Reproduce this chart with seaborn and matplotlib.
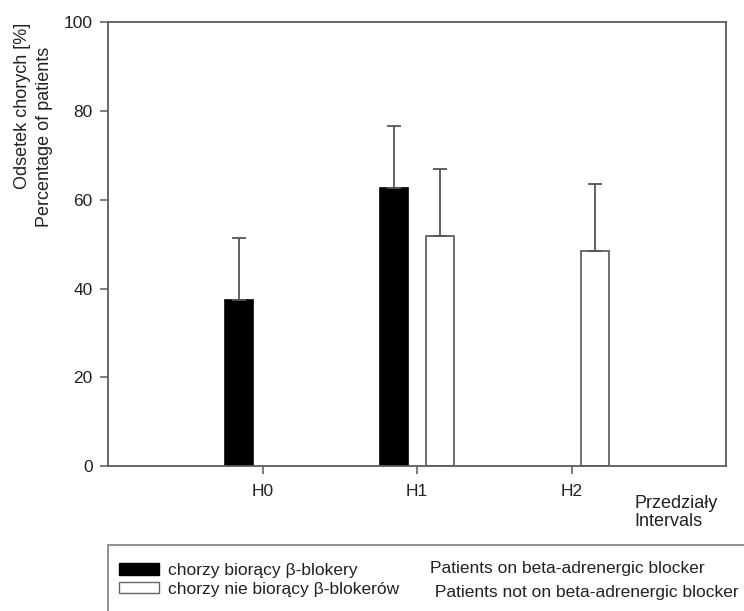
import numpy as np
import pandas as pd
import matplotlib
matplotlib.use('Agg')
import matplotlib.pyplot as plt
import seaborn as sns
from matplotlib.patches import Patch, Rectangle

# values
intervals = ['H0', 'H1', 'H2']
on_blocker = [37.5, 62.7, np.nan]
on_blocker_err = [14.0, 13.9, np.nan]
not_on_blocker = [np.nan, 51.8, 48.4]
not_on_blocker_err = [np.nan, 15.2, 15.2]

label_on_pl = 'chorzy biorący β-blokery'
label_off_pl = 'chorzy nie biorący β-blokerów'
label_on_en = 'Patients on beta-adrenergic blocker'
label_off_en = ' Patients not on beta-adrenergic blocker'

sns.set_theme(style='white')
plt.rcParams['font.family'] = ['Liberation Sans', 'DejaVu Sans']

df = pd.DataFrame({
    'interval': intervals * 2,
    'group': [label_on_pl] * 3 + [label_off_pl] * 3,
    'pct': on_blocker + not_on_blocker,
    'err': on_blocker_err + not_on_blocker_err,
})

W, H = 744, 611
fig = plt.figure(figsize=(W / 100, H / 100), dpi=100)
ax = fig.add_axes([108 / W, 1 - 466 / H, (726 - 108) / W, (466 - 22.5) / H])

hue_order = [label_on_pl, label_off_pl]
sns.barplot(data=df, x='interval', y='pct', hue='group', hue_order=hue_order,
            order=intervals, palette={label_on_pl: 'black', label_off_pl: 'white'},
            width=0.6, gap=0.39, linewidth=1.2, errorbar=None, legend=False, ax=ax)

# colour the edges and add the one-sided error bars
for p in ax.patches:
    cx = p.get_x() + p.get_width() / 2
    h = p.get_height()
    idx = int(round(cx))
    grp = label_on_pl if cx < idx else label_off_pl
    row = df[(df['interval'] == intervals[idx]) & (df['group'] == grp)].iloc[0]
    p.set_edgecolor('black' if grp == label_on_pl else '#555555')
    ax.errorbar(cx, h, yerr=[[0], [row['err']]], fmt='none', ecolor='#555555',
                elinewidth=1.3, capsize=5, capthick=1.3, zorder=1)

ax.set_xlim(-1, 3)
ax.set_ylim(0, 100)
ax.set_yticks([0, 20, 40, 60, 80, 100])
ax.set_xticks(range(len(intervals)))
ax.set_xticklabels(intervals)
ax.set_xlabel('')
ax.set_ylabel('')

for s in ax.spines.values():
    s.set_visible(True)
    s.set_color('#5a5a5a')
    s.set_linewidth(1.3)
ax.tick_params(axis='both', direction='out', length=6, width=1.1, color='#5a5a5a',
               labelsize=12.5, labelcolor='#222222', bottom=True, left=True)
ax.tick_params(axis='x', pad=7)
ax.tick_params(axis='y', pad=5)

# axis titles
fig.text(23 / W, 1 - 106 / H, 'Odsetek chorych [%]', rotation=90, ha='center', va='center',
         fontsize=13, color='#222222')
fig.text(45 / W, 1 - 137 / H, 'Percentage of patients', rotation=90, ha='center', va='center',
         fontsize=13, color='#222222')
fig.text(634 / W, 1 - 495 / H, 'Przedziały\nIntervals', ha='left', va='top',
         fontsize=13, color='#222222', linespacing=1.05)

# legend box below the plot
fig.patches.append(Rectangle((108 / W, -0.05), 1, (H - 545) / H + 0.05, transform=fig.transFigure,
                             fill=False, edgecolor='#888888', linewidth=1.3))
handles = [Patch(facecolor='black', edgecolor='black'),
           Patch(facecolor='white', edgecolor='#666666')]
fig.legend(handles, hue_order, loc='center left', bbox_to_anchor=(119 / W, 1 - 580 / H),
           frameon=False, fontsize=12.5, handlelength=2.3, handleheight=0.63,
           handletextpad=0.5, labelspacing=0.2, borderpad=0, borderaxespad=0,
           labelcolor='#222222')
fig.text(430 / W, 1 - 569 / H, label_on_en, ha='left', va='center', fontsize=12.5, color='#222222')
fig.text(430 / W, 1 - 593 / H, label_off_en, ha='left', va='center', fontsize=12.5, color='#222222')

fig.savefig('out.png', dpi=100)
